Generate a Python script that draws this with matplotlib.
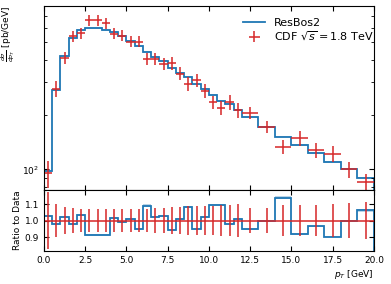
import numpy as np
import matplotlib
matplotlib.use("Agg")
from matplotlib import pyplot as plt
from matplotlib.ticker import NullFormatter, FixedLocator

## bins (GeV)
edges = np.array([0.0, 0.5, 1.0, 1.5, 2.0, 2.5, 3.0, 3.5, 4.0, 4.5, 5.0, 5.5, 6.0,
                  6.5, 7.0, 7.5, 8.0, 8.5, 9.0, 9.5, 10.0, 10.5, 11.0, 11.5, 12.0,
                  13.0, 14.0, 15.0, 16.0, 17.0, 18.0, 19.0, 20.0])

## CDF data dsigma/dpT [pb/GeV]
data = np.array([95, 278, 411, 538, 562, 658, 658, 636, 556, 543, 503, 503,
                 404, 406, 381, 384, 336, 296, 309, 269, 234, 218, 234, 211,
                 204, 171, 133, 148, 127, 122, 100, 85])
# relative error of data
data_rel_err = np.array([0.17, 0.10, 0.08, 0.075, 0.07, 0.07, 0.068, 0.068, 0.07, 0.07,
                         0.07, 0.07, 0.072, 0.074, 0.076, 0.08, 0.084, 0.085, 0.087, 0.088,
                         0.086, 0.093, 0.095, 0.098, 0.076, 0.078, 0.092, 0.093, 0.096,
                         0.098, 0.104, 0.112])

## ResBos2 / data
ratio = np.array([1.030, 0.978, 1.020, 0.980, 1.034, 0.913, 0.913, 0.913, 1.018, 0.994,
                  1.012, 0.947, 1.091, 1.022, 1.028, 0.943, 1.012, 1.083, 0.947, 1.022,
                  1.095, 1.095, 0.978, 1.008, 0.947, 1.000, 1.139, 0.919, 0.964, 0.903,
                  1.000, 1.061])

theory = data * ratio
centers = 0.5 * (edges[1:] + edges[:-1])
halfw = 0.5 * (edges[1:] - edges[:-1])

plt.rcParams['font.size'] = 6.5
plt.rcParams['xtick.direction'] = 'in'
plt.rcParams['ytick.direction'] = 'in'
plt.rcParams['xtick.top'] = True
plt.rcParams['ytick.right'] = True

fig = plt.figure(figsize=(3.91, 2.84), dpi=100)
ax = fig.add_axes([0.1125, 0.331, 0.844, 0.648])
rax = fig.add_axes([0.1125, 0.116, 0.844, 0.215], sharex=ax)

blue = '#1f77b4'
red = '#d62728'

## top panel
ax.stairs(theory * 1.012, edges, baseline=theory * 0.988, fill=True, color=blue, alpha=0.3, lw=0)
ax.stairs(theory, edges, color=blue, lw=1.3, label='ResBos2')
ax.errorbar(centers, data, xerr=halfw, yerr=data * data_rel_err, fmt='none',
            ecolor=red, elinewidth=1.3, alpha=0.85, label=r'CDF $\sqrt{s}=1.8$ TeV')
ax.set_yscale('log')
ax.set_ylim(77, 790)
ax.yaxis.set_minor_formatter(NullFormatter())
ax.set_ylabel(r'$\frac{d\sigma}{dp_T}$ [pb/GeV]', loc='top')
ax.yaxis.set_label_coords(-0.082, 1.0)
ax.legend(loc='upper right', frameon=False, fontsize=8, labelspacing=0.15,
          borderpad=0, borderaxespad=0, bbox_to_anchor=(1.0, 0.935))
ax.tick_params(labelbottom=False, which='major', length=3.5)
ax.tick_params(which='minor', length=2)

## ratio panel
rax.stairs(ratio * 1.006, edges, baseline=ratio * 0.994, fill=True, color=blue, alpha=0.3, lw=0)
rax.stairs(ratio, edges, color=blue, lw=1.3)
rax.errorbar(centers, np.ones_like(centers), xerr=halfw, yerr=data_rel_err, fmt='none',
             ecolor=red, elinewidth=1.3, alpha=0.85)
rax.set_ylim(0.815, 1.185)
rax.yaxis.set_major_locator(FixedLocator([0.9, 1.0, 1.1]))
rax.set_ylabel('Ratio to Data')
rax.yaxis.set_label_coords(-0.067, 0.5)
rax.set_xlim(0, 20)
rax.set_xticks([0, 2.5, 5, 7.5, 10, 12.5, 15, 17.5, 20])
rax.set_xlabel(r'$p_T$ [GeV]', loc='right', labelpad=2)
rax.tick_params(which='major', length=3.5)

fig.savefig('out.png', dpi=100)
